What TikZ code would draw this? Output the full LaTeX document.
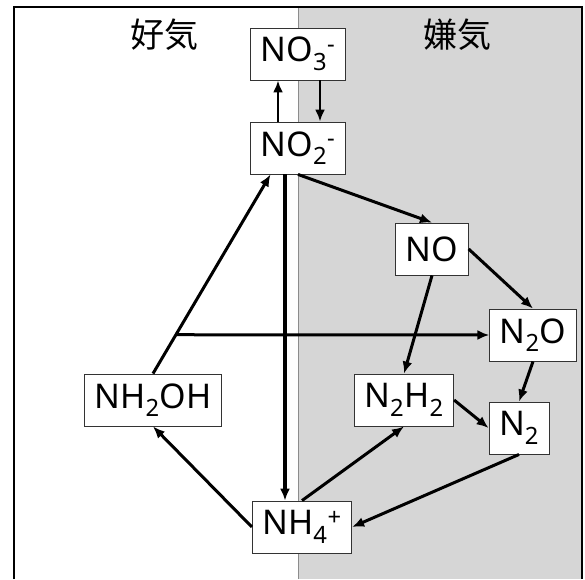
\documentclass[tikz,border=0pt]{standalone}
\usepackage{fontspec}
\setmainfont{Noto Sans}
\newfontfamily\jpfont{Noto Sans CJK JP}
\usetikzlibrary{arrows.meta,calc}

\tikzset{
	species/.style={draw=black!80, line width=0.9pt, fill=white, inner xsep=10pt, inner ysep=0pt, minimum height=52pt, font=\fontsize{34}{36}\selectfont},
	flow/.style={line width=3pt, -{Latex[length=12pt,width=10pt]}},
}

\begin{document}
\begin{tikzpicture}[x=1pt, y=-1pt]
	\useasboundingbox (0,0) rectangle (585,579);
	% aerobic / anaerobic halves
	\fill[black!16] (298,7) rectangle (582,579);
	\draw[black!45, line width=1pt] (298,7) -- (298,579);
	\draw[line width=2.2pt] (14,579) -- (14,7) -- (582,7) -- (582,579);
	\node[font=\jpfont\fontsize{34}{36}\selectfont] (aer) at (164,35) {好気};
	\node[font=\jpfont\fontsize{34}{36}\selectfont] (anaer) at (457,35) {嫌気};

	\node[species] (no3) at (298,54) {NO\textsubscript{3}\textsuperscript{-}};
	\node[species] (no2) at (298,148) {NO\textsubscript{2}\textsuperscript{-}};
	\node[species] (no) at (432,249) {NO};
	\node[species] (n2o) at (533,335) {N\textsubscript{2}O};
	\node[species] (nh2oh) at (153,400) {NH\textsubscript{2}OH};
	\node[species] (n2h2) at (404,400) {N\textsubscript{2}H\textsubscript{2}};
	\node[species] (n2) at (519,428) {N\textsubscript{2}};
	\node[species] (nh4) at (302,527) {NH\textsubscript{4}\textsuperscript{+}};

	\coordinate (no2in) at ([xshift=-27.5pt]no2.south);
	\coordinate (split) at ($(nh2oh.north)!0.195!(no2in)$);

	\draw[flow, line width=2.6pt] ([xshift=-20pt]no2.north) -- ([xshift=-20pt]no2.north |- no3.south);
	\draw[flow, line width=2.6pt] ([xshift=22pt]no3.south) -- ([xshift=22pt]no3.south |- no2.north);
	\draw[flow, line width=3.6pt] ([xshift=-13pt]no2.south) -- ([xshift=-13pt]no2.south |- nh4.north);
	\draw[flow] (no2.south) -- (no.north);
	\draw[flow] (no.east) -- (n2o.north);
	\draw[flow] (no.south) -- (n2h2.north);
	\draw[flow] (nh2oh.north) -- (no2in);
	\draw[flow] (split) -- (n2o.west);
	\draw[flow] (n2o.south) -- (n2.north);
	\draw[flow] (n2h2.east) -- (n2.west);
	\draw[flow] (n2.south) -- (nh4.east);
	\draw[flow] (nh4.west) -- (nh2oh.south);
	\draw[flow] (nh4.north) -- (n2h2.south);
\end{tikzpicture}
\end{document}
